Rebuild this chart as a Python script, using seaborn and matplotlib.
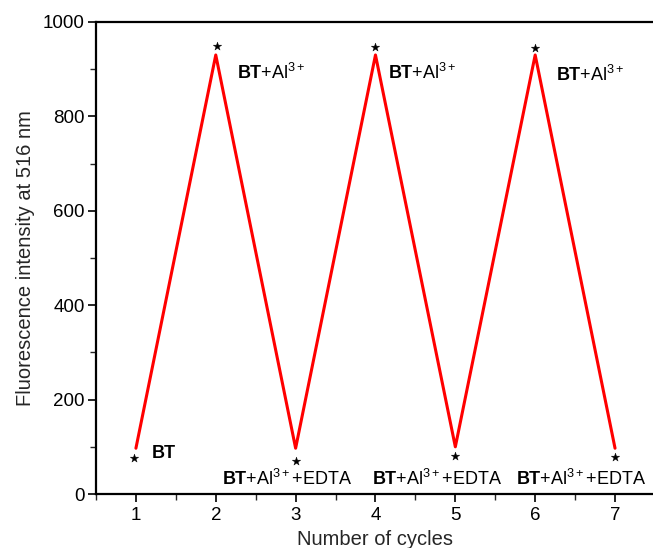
import matplotlib
matplotlib.use("Agg")
import matplotlib.pyplot as plt
import seaborn as sns
import pandas as pd
from matplotlib.ticker import MultipleLocator

cycles = [1, 2, 3, 4, 5, 6, 7]
intensity = [97, 930, 97, 930, 100, 930, 97]
star_x = [0.97, 2.01, 3.0, 4.0, 4.99, 6.0, 7.0]
star_y = [76, 949, 70, 947, 80, 945, 78]
labels = [r"$\mathbf{BT}$",
          r"$\mathbf{BT}$+Al$^{3+}$",
          r"$\mathbf{BT}$+Al$^{3+}$+EDTA",
          r"$\mathbf{BT}$+Al$^{3+}$",
          r"$\mathbf{BT}$+Al$^{3+}$+EDTA",
          r"$\mathbf{BT}$+Al$^{3+}$",
          r"$\mathbf{BT}$+Al$^{3+}$+EDTA"]
label_x = [1.19, 2.27, 2.08, 4.16, 3.96, 6.26, 5.76]
label_y = [76, 880, 20, 880, 20, 875, 20]

sns.set_style("ticks")
plt.rcParams['font.family'] = ['Liberation Sans', 'DejaVu Sans']
plt.rcParams['mathtext.fontset'] = 'custom'
plt.rcParams['mathtext.rm'] = 'Liberation Sans'
plt.rcParams['mathtext.bf'] = 'Liberation Sans:bold'
plt.rcParams['mathtext.it'] = 'Liberation Sans:italic'

fig = plt.figure(figsize=(6.53, 5.48), dpi=100)
ax = fig.add_axes([0.147, 0.0985, 0.856, 0.8615])

df = pd.DataFrame({"cycle": cycles, "intensity": intensity})
sns.lineplot(data=df, x="cycle", y="intensity", ax=ax, color="#ff0000", linewidth=2.2)
sdf = pd.DataFrame({"x": star_x, "y": star_y})
sns.scatterplot(data=sdf, x="x", y="y", ax=ax, marker="*", s=40, color="black",
                edgecolor="black", linewidth=0.3, zorder=5)

for t, lx, ly in zip(labels, label_x, label_y):
    ax.text(lx, ly, t, fontsize=13, ha="left", va="baseline", color="black")

ax.set_xlim(0.5, 7.5)
ax.set_ylim(0, 1000)
ax.xaxis.set_major_locator(MultipleLocator(1))
ax.xaxis.set_minor_locator(MultipleLocator(0.5))
ax.yaxis.set_major_locator(MultipleLocator(200))
ax.yaxis.set_minor_locator(MultipleLocator(100))
ax.tick_params(which="major", direction="out", length=6, width=1.2, labelsize=13.5, colors="black")
ax.tick_params(which="minor", direction="out", length=4, width=1.0)
ax.tick_params(axis="y", which="major", pad=2)
for sp in ax.spines.values():
    sp.set_linewidth(1.6)
    sp.set_color("black")
ax.set_xlabel("Number of cycles", fontsize=14.5, labelpad=4)
ax.set_ylabel("Fluorescence intensity at 516 nm", fontsize=14.5, labelpad=6)

fig.savefig("out.png", dpi=100)
